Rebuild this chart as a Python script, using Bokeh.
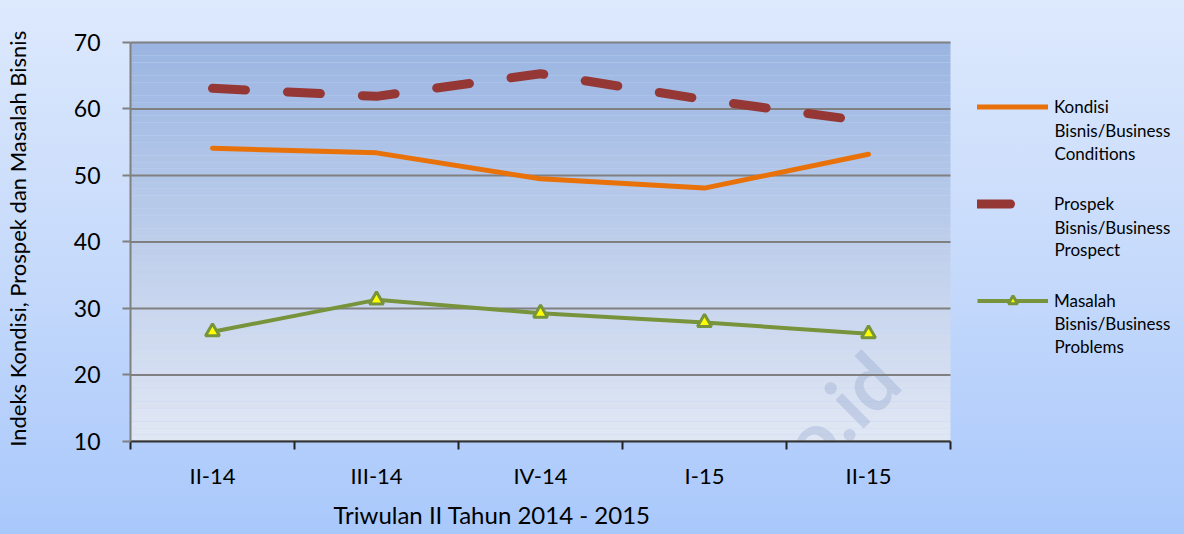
from bokeh.plotting import figure
from bokeh.models import (Range1d, FixedTicker, Legend, LegendItem, BoxAnnotation, Label, Title)
from bokeh.embed import file_html
from bokeh.resources import INLINE

categories = ["II-14", "III-14", "IV-14", "I-15", "II-15"]
kondisi = [54.1, 53.4, 49.5, 48.1, 53.2]
prospek = [63.1, 61.9, 65.3, 61.4, 58.1]
masalah = [26.5, 31.3, 29.3, 27.9, 26.2]
y_ticks = [10, 20, 30, 40, 50, 60, 70]
legend_first = ["Kondisi", "Prospek", "Masalah"]
legend_rest = [["Bisnis/Business", "Conditions"],
               ["Bisnis/Business", "Prospect"],
               ["Bisnis/Business", "Problems"]]

FONT = "Lato"
W, H = 1184, 534
FL, FR, FT, FB = 130, 950, 42, 442  # plot-area edges in page pixels
NC = len(categories)
XPX = (FR - FL) / NC          # pixels per category
YPX = (FB - FT) / 60.0        # pixels per y unit
TOPPAD = 12                   # extra frame room above 70 so the top grid line is not clipped
xs = [i + 0.5 for i in range(NC)]

p = figure(width=W, height=H, output_backend="svg", toolbar_location=None,
           x_range=Range1d(0, NC + (W - FR) / XPX), y_range=Range1d(10, 70 + TOPPAD / YPX),
           min_border_left=FL, min_border_right=0, min_border_top=FT - TOPPAD,
           min_border_bottom=H - FB)
p.styles = {"background": "linear-gradient(to bottom, #dde9fd 0%, #c6dafb 50%, #a9c8fb 100%)"}
p.border_fill_alpha = 0
p.background_fill_alpha = 0
p.outline_line_color = None


def px_to_x(px):
    return (px - FL) / XPX


def py_to_y(py):
    return 70 - (py - FT) / YPX


# plot-area gradient (decoration)
n = 60
top_c = (154, 181, 226)
bot_c = (225, 231, 244)
for i in range(n):
    t = (i + 0.5) / n
    c = tuple(int(round(bot_c[k] + (top_c[k] - bot_c[k]) * t)) for k in range(3))
    p.add_layout(BoxAnnotation(left=0, right=NC, bottom=10 + 60 * i / n, top=10 + 60 * (i + 1) / n,
                               fill_color="#%02x%02x%02x" % c,
                               fill_alpha=1, line_alpha=0, level="image"))

# watermark
p.add_layout(Label(x=px_to_x(884), y=py_to_y(366), text="bps.go.id", angle=0.78, text_align="right",
                   text_baseline="alphabetic", text_font=FONT, text_font_style="bold",
                   text_font_size="78px", text_color="#5a78b0", text_alpha=0.2, level="image"))

# horizontal grid lines, limited to the plot area
p.segment(x0=[0] * len(y_ticks), x1=[NC] * len(y_ticks), y0=y_ticks, y1=y_ticks,
          line_color="#808080", line_width=2)

r1 = p.line(xs, kondisi, line_color="#e8710a", line_width=5, line_cap="round", line_join="round")
r2 = p.line(xs, prospek, line_color="#953735", line_width=9, line_dash="33 42",
            line_cap="round", line_join="round")
r3 = p.line(xs, masalah, line_color="#77933c", line_width=4, line_join="round")
r3m = p.scatter(xs, masalah, marker="triangle", size=14, fill_color="#ffff00",
                line_color="#77933c", line_width=3)

# axes
xa = p.xaxis[0]
xa.bounds = (0, NC)
xa.ticker = FixedTicker(ticks=xs, minor_ticks=list(range(NC + 1)))
xa.major_label_overrides = {x: c for x, c in zip(xs, categories)}
xa.major_tick_out = 0
xa.major_tick_in = 0
xa.minor_tick_out = 8
xa.minor_tick_in = 0
xa.minor_tick_line_color = "#222222"
xa.minor_tick_line_width = 2
xa.axis_line_color = "#333333"
xa.axis_line_width = 2
xa.major_label_text_font = FONT
xa.major_label_text_font_size = "22px"
xa.major_label_text_color = "#000000"
xa.major_label_standoff = 12

ya = p.yaxis[0]
ya.bounds = (10, 70)
ya.ticker = FixedTicker(ticks=y_ticks)
ya.major_tick_out = 8
ya.major_tick_in = 0
ya.minor_tick_line_color = None
ya.major_tick_line_color = "#808080"
ya.major_tick_line_width = 2
ya.axis_line_color = "#808080"
ya.axis_line_width = 2
ya.major_label_text_font = FONT
ya.major_label_text_font_size = "23px"
ya.major_label_text_color = "#000000"
ya.major_label_standoff = 22
ya.axis_label = "Indeks Kondisi, Prospek  dan Masalah Bisnis"
ya.axis_label_text_font = FONT
ya.axis_label_text_font_size = "22px"
ya.axis_label_text_font_style = "normal"
ya.axis_label_text_color = "#000000"
ya.axis_label_standoff = 40

p.xgrid.visible = False
p.ygrid.visible = False

p.add_layout(Title(text="Triwulan II Tahun 2014 - 2015", align="left", offset=203,
                   text_font=FONT, text_font_size="24px", text_font_style="normal",
                   text_color="#000000", standoff=12), "below")

# legend (first line of each entry in the legend; continuation lines as labels)
LEG_H = 3 * 23 + 2 * 74
legend = Legend(items=[
    LegendItem(label=legend_first[0], renderers=[r1]),
    LegendItem(label=legend_first[1], renderers=[r2]),
    LegendItem(label=legend_first[2], renderers=[r3, r3m]),
], location=(977 - FL, FB - (95.5 + LEG_H)))
legend.background_fill_alpha = 0
legend.border_line_color = None
legend.label_text_font = FONT
legend.label_text_font_size = "17px"
legend.label_text_color = "#000000"
legend.glyph_width = 71
legend.glyph_height = 23
legend.label_height = 23
legend.spacing = 74
legend.label_standoff = 6
legend.margin = 0
legend.padding = 0
p.add_layout(legend, "center")

item_y = [107, 204, 301]
for first_y, rest in zip(item_y, legend_rest):
    for j, txt in enumerate(rest):
        p.add_layout(Label(x=px_to_x(1054), y=py_to_y(first_y + 23 * (j + 1)), text=txt,
                           text_align="left", text_baseline="middle", text_font=FONT,
                           text_font_size="17px", text_color="#000000"))

open("out.html", "w").write(file_html(p, INLINE))
